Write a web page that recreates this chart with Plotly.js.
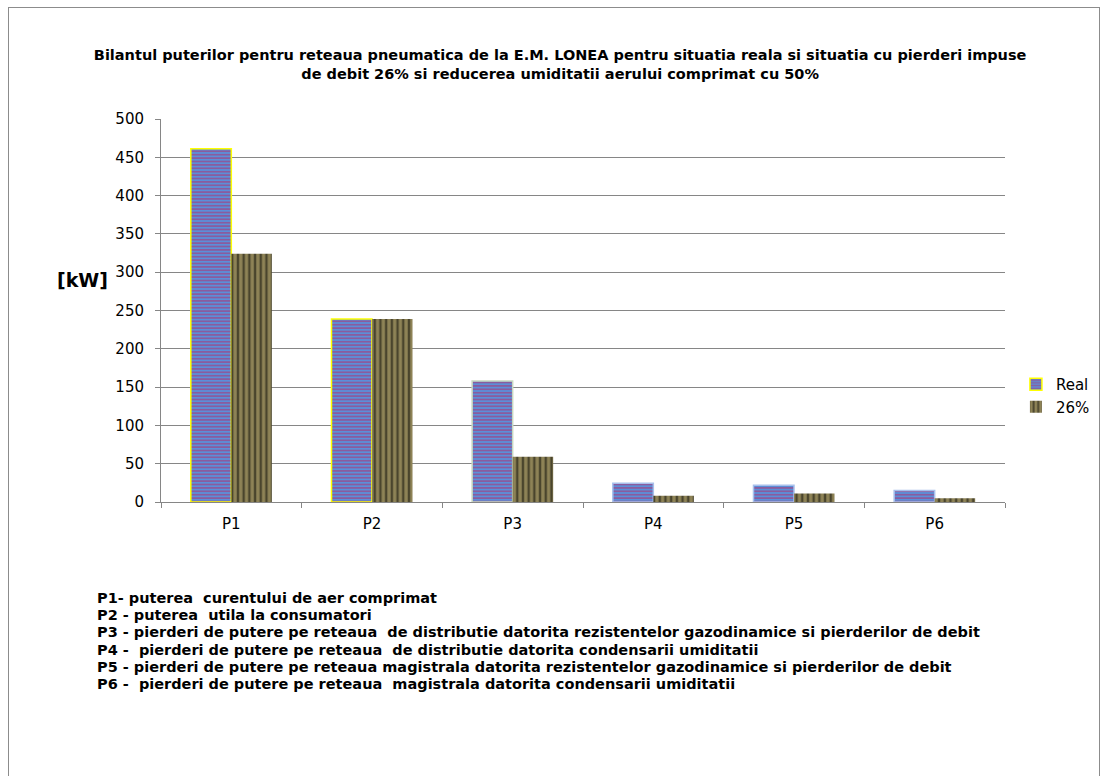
<!DOCTYPE html>
<html>
<head>
<meta charset="utf-8">
<script src="https://cdn.plot.ly/plotly-3.0.1.min.js"></script>
<style>
  html, body { margin: 0; padding: 0; background: #fff; }
  #wrap { position: relative; width: 1107px; height: 776px; overflow: hidden; }
  #chart { position: absolute; left: 0; top: 0; width: 1107px; height: 776px; }
  #frame { position: absolute; left: 8px; top: 7px; width: 1090px; height: 800px;
           border: 1px solid #8c8c8c; pointer-events: none; }
</style>
</head>
<body>
<div id="wrap">
  <div id="chart"></div>
  <div id="frame"></div>
</div>
<script>
// ---- data ----
const categories = ["P1", "P2", "P3", "P4", "P5", "P6"];
const realValues = [461, 239, 158, 24.5, 22, 15];
const imposedValues = [324, 239, 59, 8, 11, 5];
const seriesNames = ["Real", "26%"];
const yTicks = [0, 50, 100, 150, 200, 250, 300, 350, 400, 450, 500];
const chartTitle = "Bilantul puterilor pentru reteaua pneumatica de la E.M. LONEA pentru situatia reala si situatia cu pierderi impuse<br>de debit 26% si reducerea umiditatii aerului comprimat cu 50%";
const yAxisLabel = "[kW]";
const notes = [
  "P1- puterea  curentului de aer comprimat",
  "P2 - puterea  utila la consumatori",
  "P3 - pierderi de putere pe reteaua  de distributie datorita rezistentelor gazodinamice si pierderilor de debit",
  "P4 -  pierderi de putere pe reteaua  de distributie datorita condensarii umiditatii",
  "P5 - pierderi de putere pe reteaua magistrala datorita rezistentelor gazodinamice si pierderilor de debit",
  "P6 -  pierderi de putere pe reteaua  magistrala datorita condensarii umiditatii"
];

// ---- styles ----
const realOutline = ["#ffff00", "#ffff00", "#c8d8c0", "#a8c0ec", "#a8c0ec", "#a8c0ec"];
const FONT = "DejaVu Sans, Verdana, sans-serif";

const traces = [
  {
    type: "bar", name: seriesNames[0], x: categories, y: realValues,
    marker: {
      color: "#5b8fd8",
      line: { color: realOutline, width: 1.5 },
      pattern: { shape: "-", bgcolor: "#5b8fd8", fgcolor: "#8a5c9e", size: 3.4, solidity: 0.5, fillmode: "replace" }
    },
    hoverinfo: "skip"
  },
  {
    type: "bar", name: seriesNames[1], x: categories, y: imposedValues,
    marker: {
      color: "#8e8356",
      line: { color: "#8e8356", width: 0 },
      pattern: { shape: "|", bgcolor: "#8e8356", fgcolor: "#4a452d", size: 5.7, solidity: 0.42, fillmode: "replace" }
    },
    hoverinfo: "skip"
  }
];

const W = 1107, H = 776;
const L = 161, R = 96, T = 119, B = 274;
const plotW = W - L - R, plotH = H - T - B;
const px2x = px => (px - L) / plotW;
const px2y = py => (H - B - py) / plotH;

const noteAnnotations = notes.map((s, i) => ({
  text: "<b>" + s + "</b>", xref: "paper", yref: "paper", align: "left",
  x: px2x(95), xanchor: "left",
  y: px2y(598 + 17.2 * i), yanchor: "middle",
  showarrow: false, font: { family: FONT, size: 14.5, color: "#000" }
}));

const layout = {
  width: W, height: H,
  margin: { l: L, r: R, t: T, b: B, pad: 0 },
  paper_bgcolor: "#ffffff", plot_bgcolor: "#ffffff",
  font: { family: FONT, size: 15, color: "#000" },
  barmode: "group", bargap: 0.424, bargroupgap: 0,
  showlegend: true,
  title: {
    text: chartTitle,
    font: { family: FONT, size: 14.5, weight: "bold", color: "#000" },
    x: 0.506, xanchor: "center", xref: "container",
    y: 1 - 60 / H, yanchor: "top", yref: "container"
  },
  xaxis: {
    type: "category",
    showline: true, linecolor: "#868686", linewidth: 1,
    ticks: "outside", tickson: "boundaries", ticklen: 5, tickcolor: "#868686",
    tickfont: { family: FONT, size: 15, color: "#000" },
    ticklabelstandoff: 8,
    showgrid: false, zeroline: false, fixedrange: true
  },
  yaxis: {
    range: [0, 500], tickvals: yTicks, ticktext: yTicks.map(String),
    showline: true, linecolor: "#868686", linewidth: 1,
    ticks: "outside", ticklen: 5, tickcolor: "#868686",
    tickfont: { family: FONT, size: 15, color: "#000" },
    ticklabelstandoff: 8,
    showgrid: true, gridcolor: "#868686", gridwidth: 1,
    zeroline: false, fixedrange: true
  },
  legend: {
    x: px2x(1022), xanchor: "left",
    y: px2y(368), yanchor: "top",
    font: { family: FONT, size: 15, color: "#000" },
    itemwidth: 30, tracegroupgap: 2, bgcolor: "rgba(0,0,0,0)"
  },
  annotations: [
    {
      text: "<b>" + yAxisLabel + "</b>", xref: "paper", yref: "paper",
      x: px2x(110), xanchor: "right",
      y: px2y(280), yanchor: "middle",
      showarrow: false, font: { family: FONT, size: 19, color: "#000" }
    }
  ].concat(noteAnnotations)
};

Plotly.newPlot("chart", traces, layout, { displayModeBar: false, staticPlot: true });
</script>
</body>
</html>
